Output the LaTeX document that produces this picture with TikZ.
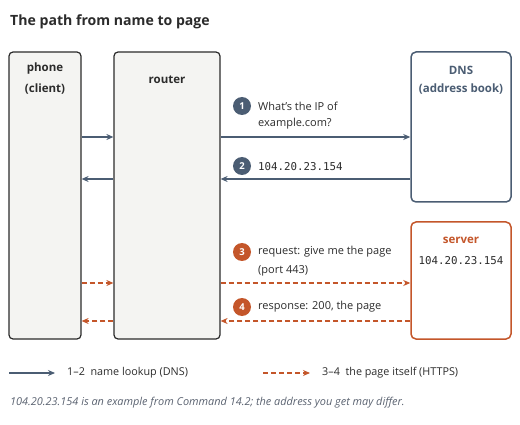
\documentclass[tikz,border=0pt]{standalone}
\usepackage{fontspec}
\setmainfont{Open Sans}
\newfontfamily\monofont{DejaVu Sans Mono}
\usetikzlibrary{arrows.meta}
\definecolor{slate}{HTML}{4B5D73}
\definecolor{rust}{HTML}{C4562A}
\definecolor{ink}{HTML}{2B2B2B}
\definecolor{boxfill}{HTML}{F4F4F2}
\definecolor{notegray}{HTML}{5A6270}
\tikzset{
  x=1pt, y=-1pt,
  hostbox/.style={draw=ink, line width=1.2pt, fill=boxfill, rounded corners=4pt, inner sep=0pt},
  dnsbox/.style={draw=slate, line width=1.5pt, fill=white, rounded corners=5pt, inner sep=0pt},
  srvbox/.style={draw=rust, line width=1.5pt, fill=white, rounded corners=5pt, inner sep=0pt},
  boxtitle/.style={font=\fontsize{11.5}{14}\selectfont\bfseries, text=ink, align=center, inner sep=0pt},
  lbl/.style={font=\fontsize{11}{13}\selectfont, text=ink, anchor=west, inner sep=0pt},
  leg/.style={font=\fontsize{10.8}{13}\selectfont, text=ink, anchor=west, inner sep=0pt},
  mono/.style={font=\monofont\fontsize{10.8}{13}\selectfont, text=ink, inner sep=0pt},
  dnsflow/.style={draw=slate, line width=1.5pt, -{Stealth[length=7pt,width=6pt]}},
  webflow/.style={draw=rust, line width=1.5pt, dash pattern=on 5pt off 3pt, -{Stealth[length=7pt,width=6pt]}},
  badge/.style={circle, minimum size=18pt, inner sep=0pt, text=white, font=\fontsize{9.5}{12}\selectfont\bfseries},
}
\begin{document}
\begin{tikzpicture}
\useasboundingbox (0,0) rectangle (520,425);
% title
\node[anchor=west, inner sep=0pt, font=\fontsize{14.1}{17}\selectfont\bfseries, text=ink] (title) at (10,22) {The path from name to page};
% boxes
\node[hostbox, minimum width=72pt, minimum height=287pt] (phone) at (45,195.5) {};
\node[hostbox, minimum width=106pt, minimum height=287pt] (router) at (167,195.5) {};
\node[dnsbox, minimum width=100pt, minimum height=150pt] (dns) at (461,127) {};
\node[srvbox, minimum width=100pt, minimum height=117pt] (server) at (461,280.5) {};
% box texts
\node[boxtitle] (phonet) at (45,69) {phone};
\node[boxtitle] (phonec) at (45,89) {(client)};
\node[boxtitle] (routert) at (167,80) {router};
\node[boxtitle, text=slate] (dnst) at (461,70) {DNS};
\node[boxtitle, text=slate] (dnsc) at (461,89) {(address book)};
\node[boxtitle, text=rust] (srvt) at (461,240) {server};
\node[mono] (srvip) at (461,261) {104.20.23.154};
% flows
\draw[dnsflow] (phone.east |- 0,137) -- (router.west |- 0,137);
\draw[dnsflow] (router.east |- 0,137) -- (dns.west |- 0,137);
\draw[dnsflow] (dns.west |- 0,179) -- (router.east |- 0,179);
\draw[dnsflow] (router.west |- 0,179) -- (phone.east |- 0,179);
\draw[webflow] (phone.east |- 0,283) -- (router.west |- 0,283);
\draw[webflow] (router.east |- 0,283) -- (server.west |- 0,283);
\draw[webflow] (server.west |- 0,321) -- (router.east |- 0,321);
\draw[webflow] (router.west |- 0,321) -- (phone.east |- 0,321);
% badges and labels
\node[badge, fill=slate] (b1) at (242,106) {1};
\node[lbl] (l1a) at (258,106) {What's the IP of};
\node[lbl] (l1b) at (258,124) {example.com?};
\node[badge, fill=slate] (b2) at (242,166) {2};
\node[mono, anchor=west] (l2) at (258,167) {104.20.23.154};
\node[badge, fill=rust] (b3) at (242,252) {3};
\node[lbl] (l3a) at (258,252) {request: give me the page};
\node[lbl] (l3b) at (258,271) {(port 443)};
\node[badge, fill=rust] (b4) at (242,307) {4};
\node[lbl] (l4) at (258,307) {response: 200, the page};
% legend
\coordinate (lg1a) at (9,373);
\coordinate (lg1b) at (55,373);
\draw[dnsflow] (lg1a) -- (lg1b);
\node[leg] (lgt1) at (67,373) {1–2\ \ name lookup (DNS)};
\coordinate (lg2a) at (263,373);
\coordinate (lg2b) at (310,373);
\draw[webflow] (lg2a) -- (lg2b);
\node[leg] (lgt2) at (322,373) {3–4\ \ the page itself (HTTPS)};
% note
\node[anchor=west, inner sep=0pt, text=notegray, font=\fontsize{10.9}{13}\selectfont\itshape] (note) at (10,403) {104.20.23.154 is an example from Command 14.2; the address you get may differ.};
\end{tikzpicture}
\end{document}
